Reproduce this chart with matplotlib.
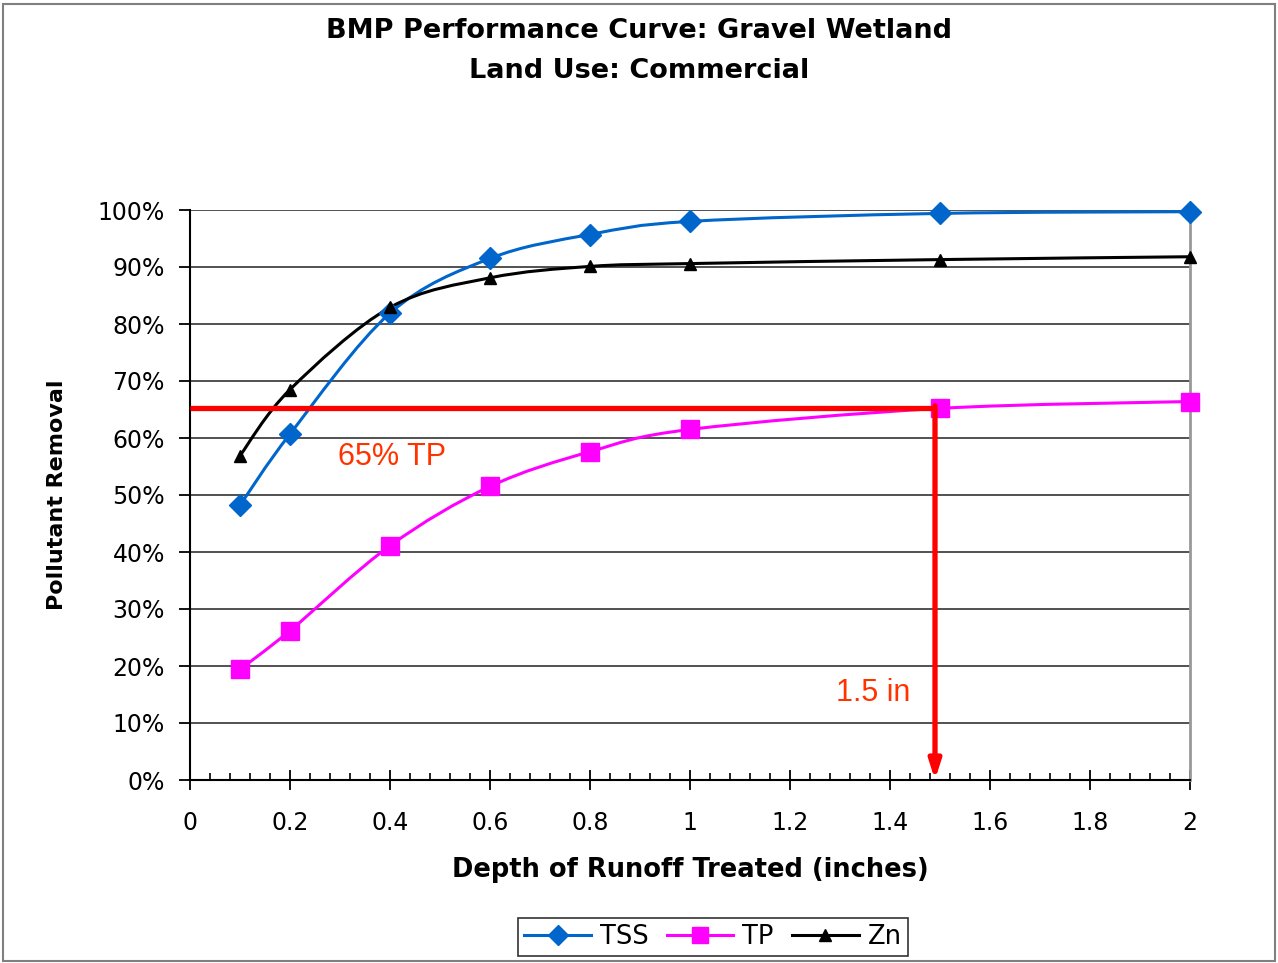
import matplotlib
matplotlib.use("Agg")
import matplotlib.pyplot as plt
from matplotlib.path import Path
from matplotlib.patches import PathPatch, Rectangle
from matplotlib.ticker import MultipleLocator, FuncFormatter
import numpy as np

plt.rcParams['font.family'] = ['DejaVu Sans']

depth = [0.1, 0.2, 0.4, 0.6, 0.8, 1.0, 1.5, 2.0]
tss = [48.2, 60.7, 81.9, 91.5, 95.7, 98.0, 99.4, 99.7]
tp = [19.4, 26.2, 41.1, 51.5, 57.6, 61.5, 65.2, 66.4]
zn = [56.9, 68.5, 82.9, 88.1, 90.1, 90.6, 91.3, 91.8]
target_pct = 65.3
target_depth = 1.49
xticks = [0, 0.2, 0.4, 0.6, 0.8, 1, 1.2, 1.4, 1.6, 1.8, 2]
yticks = list(range(0, 101, 10))

fig = plt.figure(figsize=(12.78, 9.63), dpi=100)
fig.patches.append(Rectangle((0.002, 0.002), 0.996, 0.994, transform=fig.transFigure,
                             fill=False, edgecolor='#808080', lw=1.5))
ax = fig.add_axes([190/1278, 1-780/963, 1000/1278, 570/963])


def smooth_path(xs, ys):
    x = np.asarray(xs, float); y = np.asarray(ys, float)
    n = len(x)
    verts = [(x[0], y[0])]
    codes = [Path.MOVETO]
    for i in range(n-1):
        p0 = i-1 if i > 0 else i
        p3 = i+2 if i+2 < n else i+1
        c1 = (x[i] + (x[i+1]-x[p0])/6, y[i] + (y[i+1]-y[p0])/6)
        c2 = (x[i+1] - (x[p3]-x[i])/6, y[i+1] - (y[p3]-y[i])/6)
        verts += [c1, c2, (x[i+1], y[i+1])]
        codes += [Path.CURVE4]*3
    return Path(verts, codes)


series = [
    ('TSS', tss, '#0066CC', 'D', 11),
    ('TP', tp, '#FF00FF', 's', 13),
    ('Zn', zn, 'black', '^', 9),
]
handles = []
for name, vals, col, mk, ms in series:
    ax.add_patch(PathPatch(smooth_path(depth, vals), fill=False, edgecolor=col, lw=2.2, zorder=4))
    ax.plot(depth, vals, linestyle='none', marker=mk, ms=ms, color=col, zorder=5, clip_on=False)
    h, = ax.plot([], [], color=col, lw=2.2, marker=mk, ms=ms*0.9, label=name)
    handles.append(h)

# red guide lines
ax.plot([0, target_depth], [target_pct, target_pct], color='#FF0000', lw=3.8, zorder=6,
        solid_capstyle='butt')
ax.annotate('', xy=(target_depth, 0), xytext=(target_depth, target_pct + 0.35),
            arrowprops=dict(arrowstyle='-|>,head_width=0.35,head_length=1.1', color='#FF0000',
                            lw=3.8, shrinkA=0, shrinkB=0), zorder=6, annotation_clip=False)
ax.text(0.404, 56.6, '65% TP', color='#FF3300', fontsize=22, ha='center', va='center',
        family='Liberation Sans')
ax.text(1.366, 15.2, '1.5 in', color='#FF3300', fontsize=22, ha='center', va='center',
        family='Liberation Sans')

ax.set_xlim(0, 2)
ax.set_ylim(0, 100)
ax.set_xticks(xticks)
ax.set_xticklabels([f'{t:g}' for t in xticks])
ax.xaxis.set_minor_locator(MultipleLocator(0.04))
ax.set_yticks(yticks)
ax.yaxis.set_major_formatter(FuncFormatter(lambda v, p: f'{v:.0f}%'))
ax.grid(axis='y', color='#333333', lw=1.2, zorder=1)
ax.set_axisbelow(True)
ax.spines['top'].set_visible(False)
ax.spines['right'].set_color('#999999')
ax.spines['right'].set_linewidth(2)
ax.spines['left'].set_linewidth(1.5)
ax.spines['bottom'].set_linewidth(1.5)
ax.tick_params(axis='x', which='major', direction='inout', length=14, width=1.3, labelsize=17, pad=15)
ax.tick_params(axis='x', which='minor', direction='in', length=5, width=1.2)
ax.tick_params(axis='y', which='major', direction='out', length=8, width=1.3, labelsize=17, pad=10)

ax.set_xlabel('Depth of Runoff Treated (inches)', fontsize=18.5, fontweight='bold', labelpad=16)
ax.set_ylabel('Pollutant Removal', fontsize=16, fontweight='bold', labelpad=22)

fig.text(0.5, 1-31/963, 'BMP Performance Curve: Gravel Wetland', ha='center', va='center',
         fontsize=19.5, fontweight='bold')
fig.text(0.5, 1-71/963, 'Land Use: Commercial', ha='center', va='center',
         fontsize=19.5, fontweight='bold')

leg = fig.legend(handles=handles, loc='center', bbox_to_anchor=(713/1278, 1-937/963), ncol=3,
                 frameon=True, fancybox=False, edgecolor='black', fontsize=18.5,
                 handlelength=2.6, columnspacing=0.7, handletextpad=0.35, borderpad=0.25)
leg.get_frame().set_linewidth(1.2)

fig.savefig('out.png', dpi=100)
